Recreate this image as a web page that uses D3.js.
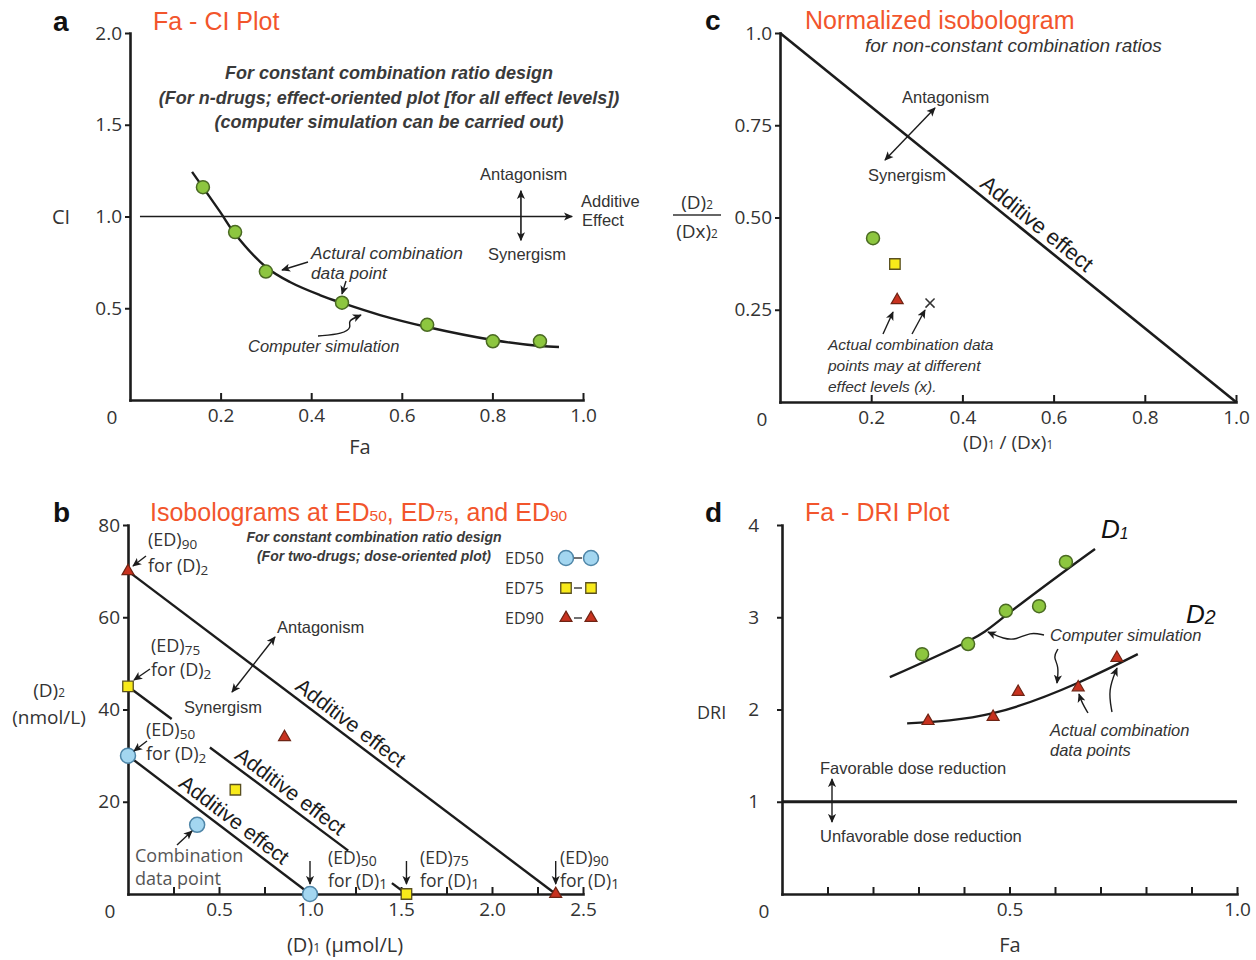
<!DOCTYPE html>
<html><head><meta charset="utf-8">
<script src="https://cdn.jsdelivr.net/npm/d3@7"></script>
<style>body{margin:0;background:#fff}svg{display:block}</style>
</head><body>
<script>
// ================= DATA =================
// Panel a : Fa - CI plot
const aFa   = [0.161, 0.232, 0.300, 0.468, 0.656, 0.801, 0.905];
const aCI   = [1.16, 0.915, 0.70, 0.53, 0.41, 0.32, 0.32];
const aSimFa = [0.137, 0.199, 0.232, 0.300, 0.353, 0.419, 0.468, 0.552, 0.656, 0.801, 0.905, 0.947];
const aSimCI = [1.243, 1.025, 0.905, 0.725, 0.643, 0.572, 0.529, 0.463, 0.398, 0.327, 0.294, 0.289];
const aXTicks = [0.2, 0.4, 0.6, 0.8, 1.0];
const aXLabels = ["0.2", "0.4", "0.6", "0.8", "1.0"];
const aYTicks = [0.5, 1.0, 1.5, 2.0];
const aYLabels = ["0.5", "1.0", "1.5", "2.0"];
// Panel b : isobolograms
const bLevels  = ["ED50", "ED75", "ED90"];
const bD1Alone = [1.0, 1.53, 2.35];
const bD2Alone = [30, 45, 70];
const bComboD1 = [0.38, 0.59, 0.86];
const bComboD2 = [15.0, 22.6, 34.0];
const bED75Segments = [[0, 0.24], [0.45, 1.21], [1.45, 1.53]];
const bXTicks = [0.25, 0.5, 0.75, 1.0, 1.25, 1.5, 1.75, 2.0, 2.25, 2.5];
const bXLabelAt = [0.5, 1.0, 1.5, 2.0, 2.5];
const bXLabels = ["0.5", "1.0", "1.5", "2.0", "2.5"];
const bYTicks = [20, 40, 60, 80];
const bYLabels = ["20", "40", "60", "80"];
// Panel c : normalized isobologram
const cD1 = [0.204, 0.252, 0.257, 0.329];
const cD2 = [0.444, 0.374, 0.276, 0.268];
const cShapes = ["circle", "square", "triangle", "x"];
const cXTicks = [0.2, 0.4, 0.6, 0.8, 1.0];
const cXLabels = ["0.2", "0.4", "0.6", "0.8", "1.0"];
const cYTicks = [0.25, 0.5, 0.75, 1.0];
const cYLabels = ["0.25", "0.50", "0.75", "1.0"];
// Panel d : Fa - DRI plot
const dD1Fa  = [0.308, 0.409, 0.492, 0.565, 0.624];
const dD1DRI = [2.60, 2.71, 3.07, 3.12, 3.60];
const dD1SimFa  = [0.237, 0.409, 0.492, 0.624, 0.688];
const dD1SimDRI = [2.35, 2.74, 3.02, 3.51, 3.74];
const dD2Fa  = [0.321, 0.464, 0.519, 0.651, 0.736];
const dD2DRI = [1.875, 1.92, 2.19, 2.24, 2.56];
const dD2SimFa  = [0.275, 0.464, 0.651, 0.782];
const dD2SimDRI = [1.85, 1.96, 2.29, 2.60];
const dXTicks = [0.1, 0.2, 0.3, 0.4, 0.5, 0.6, 0.7, 0.8, 0.9, 1.0];
const dXLabelAt = [0.5, 1.0];
const dXLabels = ["0.5", "1.0"];
const dYTicks = [1, 2, 3, 4];
const dYLabels = ["1", "2", "3", "4"];

// ================= SETUP =================
const SANS = "'Liberation Sans', Arial, sans-serif";
const TICKF = "'Open Sans', sans-serif";
const INK = "#1c1c1c";
const GREY = "#333";
const TITLE = "#f2552c";
const GREEN = "#8dc63f", GREEN_S = "#4a6a22";
const YEL = "#f8ea1a", YEL_S = "#5a5020";
const RED = "#c8321f", RED_S = "#6e2414";
const BLUE = "#a3d6f0", BLUE_S = "#4f86a8";

const svg = d3.select("body").append("svg").attr("width", 1256).attr("height", 960);
const defs = svg.append("defs");
defs.append("marker").attr("id", "ah").attr("viewBox", "0 0 10 10")
  .attr("refX", 9).attr("refY", 5).attr("markerWidth", 9).attr("markerHeight", 9)
  .attr("markerUnits", "userSpaceOnUse").attr("orient", "auto-start-reverse")
  .append("path").attr("d", "M0,0.5L10,5L0,9.5L2.5,5z").attr("fill", INK);

function txt(x, y, str, o = {}) {
  const t = svg.append("text").attr("x", x).attr("y", y)
    .attr("font-family", o.family || SANS).attr("font-size", o.size || 16.5)
    .attr("fill", o.fill || GREY);
  if (o.weight) t.attr("font-weight", o.weight);
  if (o.style) t.attr("font-style", o.style);
  if (o.anchor) t.attr("text-anchor", o.anchor);
  if (o.transform) t.attr("transform", o.transform);
  const fs = o.size || 16.5;
  const subScale = o.subScale || 0.62, subDy = (o.subDy === undefined ? 0.22 : o.subDy);
  const parts = str.split(/(_\{[^}]*\})/).filter(s => s.length);
  let shifted = 0;
  parts.forEach(p => {
    if (p.startsWith("_{")) {
      const ts = t.append("tspan").attr("font-size", fs * subScale).text(p.slice(2, -1));
      if (subDy) { ts.attr("dy", fs * subDy); shifted += fs * subDy; }
    } else {
      const ts = t.append("tspan").text(p);
      if (shifted) { ts.attr("dy", -shifted); shifted = 0; }
    }
  });
  return t;
}
function arrow(pts, o = {}) {
  const p = svg.append("path")
    .attr("d", d3.line().curve(o.curve || d3.curveLinear)(pts))
    .attr("fill", "none").attr("stroke", INK).attr("stroke-width", o.w || 1.4)
    .attr("marker-end", "url(#ah)");
  if (o.both) p.attr("marker-start", "url(#ah)");
  return p;
}
function axes(x, y, o) {
  const x0 = y(0);
  const gx = svg.append("g").attr("transform", `translate(0,${x0})`)
    .call(d3.axisBottom(x).tickValues(o.xTicks).tickSize(-7).tickSizeOuter(0).tickPadding(9)
      .tickFormat(d => { const i = o.xLabAt.indexOf(d); return i < 0 ? "" : o.xLabels[i]; }));
  const gy = svg.append("g").attr("transform", `translate(${x(0)},0)`)
    .call(d3.axisLeft(y).tickValues(o.yTicks).tickSize(5).tickSizeOuter(0).tickPadding(o.yPad || 3)
      .tickFormat((d, i) => o.yLabels[i]));
  [gx, gy].forEach(g => {
    g.select(".domain").attr("stroke", INK).attr("stroke-width", 2.6).attr("stroke-linecap", "square");
    g.selectAll(".tick line").attr("stroke", INK).attr("stroke-width", 2);
    g.selectAll(".tick text").attr("font-family", TICKF).attr("font-size", 19).attr("fill", GREY);
  });
  txt(x(0) - 18, y(0) + 24, "0", { family: TICKF, size: 19, anchor: "middle" });
}
function marker(sel, shape, px, py) {
  if (shape === "circle") {
    sel.append("circle").attr("cx", px).attr("cy", py).attr("r", 6.5)
      .attr("fill", GREEN).attr("stroke", GREEN_S).attr("stroke-width", 1.5);
  } else if (shape === "blue") {
    sel.append("circle").attr("cx", px).attr("cy", py).attr("r", 7.5)
      .attr("fill", BLUE).attr("stroke", BLUE_S).attr("stroke-width", 1.5);
  } else if (shape === "square") {
    sel.append("path").attr("transform", `translate(${px},${py})`)
      .attr("d", d3.symbol(d3.symbolSquare, 110)()).attr("fill", YEL).attr("stroke", YEL_S).attr("stroke-width", 1.3);
  } else if (shape === "triangle") {
    sel.append("path").attr("transform", `translate(${px},${py})`)
      .attr("d", d3.symbol(d3.symbolTriangle, 62)()).attr("fill", RED).attr("stroke", RED_S).attr("stroke-width", 1.2);
  } else if (shape === "x") {
    sel.append("path").attr("transform", `translate(${px},${py})`)
      .attr("d", d3.symbol(d3.symbolX, 55)()).attr("fill", "none").attr("stroke", "#333").attr("stroke-width", 1.5);
  }
}
function lineLabel(x, y, xa, ya, xb, yb, t, str, off, size) {
  const pa = [x(xa), y(ya)], pb = [x(xb), y(yb)];
  const ang = Math.atan2(pb[1] - pa[1], pb[0] - pa[0]) * 180 / Math.PI;
  const yt = ya + (yb - ya) * (t - xa) / (xb - xa);
  txt(0, -off, str, { size: size, fill: INK, anchor: "middle",
    transform: `translate(${x(t)},${y(yt)}) rotate(${ang})` });
}
function panelHead(lx, ly, letter, tx, title) {
  txt(lx, ly, letter, { size: 28, weight: "bold", fill: "#111" });
  txt(tx, ly - 1, title, { size: 25, fill: TITLE, subScale: 0.62, subDy: 0 });
}

// ================= PANEL a =================
{
  const x = d3.scaleLinear().domain([0, 1]).range([130, 583]);
  const y = d3.scaleLinear().domain([0, 2]).range([400, 33]);
  axes(x, y, { xTicks: aXTicks, xLabAt: aXTicks, xLabels: aXLabels, yTicks: aYTicks, yLabels: aYLabels });
  panelHead(53, 31, "a", 153, "Fa - CI Plot");
  const sub = { size: 18, style: "italic", weight: "bold", fill: "#3a3a3a", anchor: "middle" };
  txt(389, 79, "For constant combination ratio design", sub);
  txt(389, 104, "(For n-drugs; effect-oriented plot [for all effect levels])", sub);
  txt(389, 128, "(computer simulation can be carried out)", sub);
  arrow([[x(0.022), y(1)], [x(0.976), y(1)]], { w: 1.6 });
  txt(581, 207, "Additive");
  txt(582, 226, "Effect");
  txt(480, 180, "Antagonism");
  txt(488, 260, "Synergism");
  arrow([[x(0.863), y(1.14)], [x(0.863), y(0.87)]], { both: true, w: 1.6 });
  txt(52, 224, "CI", { family: TICKF, size: 20 });
  txt(360, 454, "Fa", { family: TICKF, size: 20, anchor: "middle" });
  const sim = aSimFa.map((f, i) => [x(f), y(aSimCI[i])]);
  svg.append("path").attr("d", d3.line().curve(d3.curveCatmullRom)(sim))
    .attr("fill", "none").attr("stroke", INK).attr("stroke-width", 2.4);
  const g = svg.append("g");
  aFa.forEach((f, i) => marker(g, "circle", x(f), y(aCI[i])));
  const it = { size: 17.3, style: "italic", fill: "#333" };
  txt(311, 259, "Actural combination", it);
  txt(311, 279, "data point", it);
  arrow([[308, 262], [282, 270]]);
  arrow([[346, 281], [342, 294]]);
  txt(248, 352, "Computer simulation", { size: 16.5, style: "italic", fill: "#333" });
  arrow([[318, 336], [343, 334], [352, 327], [347, 321], [361, 315]], { curve: d3.curveBasis });
}

// ================= PANEL c =================
{
  const x = d3.scaleLinear().domain([0, 1]).range([780, 1236]);
  const y = d3.scaleLinear().domain([0, 1]).range([402, 33]);
  axes(x, y, { xTicks: cXTicks, xLabAt: cXTicks, xLabels: cXLabels, yTicks: cYTicks, yLabels: cYLabels });
  panelHead(705, 30, "c", 805, "Normalized isobologram");
  txt(865, 52, "for non-constant combination ratios", { size: 19, style: "italic", fill: "#333" });
  svg.append("path").attr("d", d3.line()([[x(0), y(1)], [x(1), y(0)]]))
    .attr("stroke", INK).attr("stroke-width", 2.6).attr("fill", "none");
  lineLabel(x, y, 0, 1, 1, 0, 0.545, "Additive effect", 6, 22);
  txt(902, 103, "Antagonism");
  txt(868, 181, "Synergism");
  arrow([[885, 160], [935, 108]], { both: true });
  const g = svg.append("g");
  cD1.forEach((v, i) => marker(g, cShapes[i], x(v), y(cD2[i])));
  arrow([[883, 334], [893, 312]]);
  arrow([[912, 334], [925, 310]]);
  const it = { size: 15.5, style: "italic", fill: "#333" };
  txt(828, 350, "Actual combination data", it);
  txt(828, 371, "points may at different", it);
  txt(828, 392, "effect levels (x).", it);
  txt(697, 209, "(D)_{2}", { family: TICKF, size: 19, anchor: "middle", subDy: 0 });
  svg.append("line").attr("x1", 673).attr("x2", 721).attr("y1", 215).attr("y2", 215).attr("stroke", "#333").attr("stroke-width", 1.5);
  txt(697, 238, "(Dx)_{2}", { family: TICKF, size: 19, anchor: "middle", subDy: 0 });
  txt(1008, 449, "(D)_{1} / (Dx)_{1}", { family: TICKF, size: 19, anchor: "middle", subDy: 0 });
}

// ================= PANEL b =================
{
  const x = d3.scaleLinear().domain([0, 2.5]).range([128, 583]);
  const y = d3.scaleLinear().domain([0, 80]).range([894, 525]);
  axes(x, y, { xTicks: bXTicks, xLabAt: bXLabelAt, xLabels: bXLabels, yTicks: bYTicks, yLabels: bYLabels });
  panelHead(53, 522, "b", 150, "Isobolograms at ED_{50}, ED_{75}, and ED_{90}");
  const sub = { size: 14, style: "italic", weight: "bold", fill: "#3a3a3a", anchor: "middle" };
  txt(374, 542, "For constant combination ratio design", sub);
  txt(374, 561, "(For two-drugs; dose-oriented plot)", sub);
  const iso = (i, a, b) => [[x(a), y(bD2Alone[i] * (1 - a / bD1Alone[i]))], [x(b), y(bD2Alone[i] * (1 - b / bD1Alone[i]))]];
  const line = pts => svg.append("path").attr("d", d3.line()(pts)).attr("stroke", INK).attr("stroke-width", 2.4).attr("fill", "none");
  line(iso(0, 0, bD1Alone[0]));
  bED75Segments.forEach(s => line(iso(1, s[0], s[1])));
  line(iso(2, 0, bD1Alone[2]));
  lineLabel(x, y, 0, bD2Alone[0], bD1Alone[0], 0, 0.54, "Additive effect", 6, 21);
  lineLabel(x, y, 0, bD2Alone[1], bD1Alone[1], 0, 0.85, "Additive effect", 6, 21);
  lineLabel(x, y, 0, bD2Alone[2], bD1Alone[2], 0, 1.18, "Additive effect", 6, 21);
  const shapes = ["blue", "square", "triangle"];
  const g = svg.append("g");
  shapes.forEach((s, i) => {
    marker(g, s, x(0), y(bD2Alone[i]));
    marker(g, s, x(bD1Alone[i]), y(0));
    marker(g, s, x(bComboD1[i]), y(bComboD2[i]));
  });
  bLevels.forEach((lv, i) => {
    const ly = 558 + i * 30;
    txt(505, ly + 6, lv, { family: TICKF, size: 16 });
    marker(g, shapes[i], 566, ly);
    svg.append("line").attr("x1", 574).attr("x2", 582).attr("y1", ly).attr("y2", ly).attr("stroke", "#444").attr("stroke-width", 1.5);
    marker(g, shapes[i], 591, ly);
  });
  const lab = { family: TICKF, size: 18, fill: "#333", subDy: 0.18, subScale: 0.75 };
  txt(148, 546, "(ED)_{90}", lab); txt(148, 572, "for (D)_{2}", lab);
  arrow([[146, 556], [133, 566]]);
  txt(151, 652, "(ED)_{75}", lab); txt(151, 676, "for (D)_{2}", lab);
  arrow([[150, 669], [134, 680]]);
  txt(146, 736, "(ED)_{50}", lab); txt(146, 760, "for (D)_{2}", lab);
  arrow([[147, 741], [134, 751]]);
  txt(277, 633, "Antagonism");
  txt(184, 713, "Synergism");
  arrow([[232, 692], [275, 637]], { both: true });
  txt(135, 862, "Combination", { family: TICKF, size: 18, fill: "#555" });
  txt(135, 885, "data point", { family: TICKF, size: 18, fill: "#555" });
  arrow([[177, 845], [192, 831]]);
  const bl = { family: TICKF, size: 17.5, fill: "#333", subDy: 0.1, subScale: 0.8 };
  [[328, 0], [420, 1], [560, 2]].forEach(([tx, i]) => {
    txt(tx, 864, "(ED)_{" + bLevels[i].slice(2) + "}", bl);
    txt(tx, 887, "for (D)_{1}", bl);
    arrow([[x(bD1Alone[i]), 861], [x(bD1Alone[i]), 884]]);
  });
  txt(49, 697, "(D)_{2}", { family: TICKF, size: 19, anchor: "middle", subDy: 0 });
  txt(49, 724, "(nmol/L)", { family: TICKF, size: 19, anchor: "middle" });
  txt(345, 952, "(D)_{1} (μmol/L)", { family: TICKF, size: 20, anchor: "middle", subDy: 0 });
}

// ================= PANEL d =================
{
  const x = d3.scaleLinear().domain([0, 1]).range([782, 1237]);
  const y = d3.scaleLinear().domain([0, 4]).range([894, 525]);
  axes(x, y, { xTicks: dXTicks, xLabAt: dXLabelAt, xLabels: dXLabels, yTicks: dYTicks, yLabels: dYLabels, yPad: 18 });
  panelHead(705, 522, "d", 805, "Fa - DRI Plot");
  svg.append("path").attr("d", d3.line()([[x(0), y(1)], [x(1), y(1)]]))
    .attr("stroke", INK).attr("stroke-width", 3).attr("fill", "none");
  txt(820, 774, "Favorable dose reduction");
  txt(820, 842, "Unfavorable dose reduction");
  arrow([[832, 822], [832, 779]], { both: true });
  const curve = (fa, dri) => svg.append("path")
    .attr("d", d3.line().curve(d3.curveNatural)(fa.map((f, i) => [x(f), y(dri[i])])))
    .attr("fill", "none").attr("stroke", INK).attr("stroke-width", 2.4);
  curve(dD1SimFa, dD1SimDRI);
  curve(dD2SimFa, dD2SimDRI);
  const g = svg.append("g");
  dD1Fa.forEach((f, i) => marker(g, "circle", x(f), y(dD1DRI[i])));
  dD2Fa.forEach((f, i) => marker(g, "triangle", x(f), y(dD2DRI[i])));
  txt(1101, 538, "D_{1}", { size: 26, style: "italic", fill: "#111", subDy: 0.05, subScale: 0.6 });
  txt(1186, 623, "D_{2}", { size: 26, style: "italic", fill: "#111", subDy: 0.05, subScale: 0.75 });
  const it = { size: 16.5, style: "italic", fill: "#333" };
  txt(1050, 641, "Computer simulation", it);
  arrow([[1044, 635], [1030, 632], [1016, 640], [1004, 639], [988, 632]], { curve: d3.curveBasis });
  arrow([[1058, 649], [1053, 657], [1059, 666], [1057, 683]], { curve: d3.curveBasis });
  txt(1050, 736, "Actual combination", it);
  txt(1050, 756, "data points", it);
  arrow([[1088, 713], [1082, 703], [1079, 694]], { curve: d3.curveBasis });
  arrow([[1112, 712], [1108, 690], [1117, 668]], { curve: d3.curveBasis });
  txt(697, 719, "DRI", { family: TICKF, size: 18 });
  txt(1010, 952, "Fa", { family: TICKF, size: 20, anchor: "middle" });
}
</script>
</body></html>
